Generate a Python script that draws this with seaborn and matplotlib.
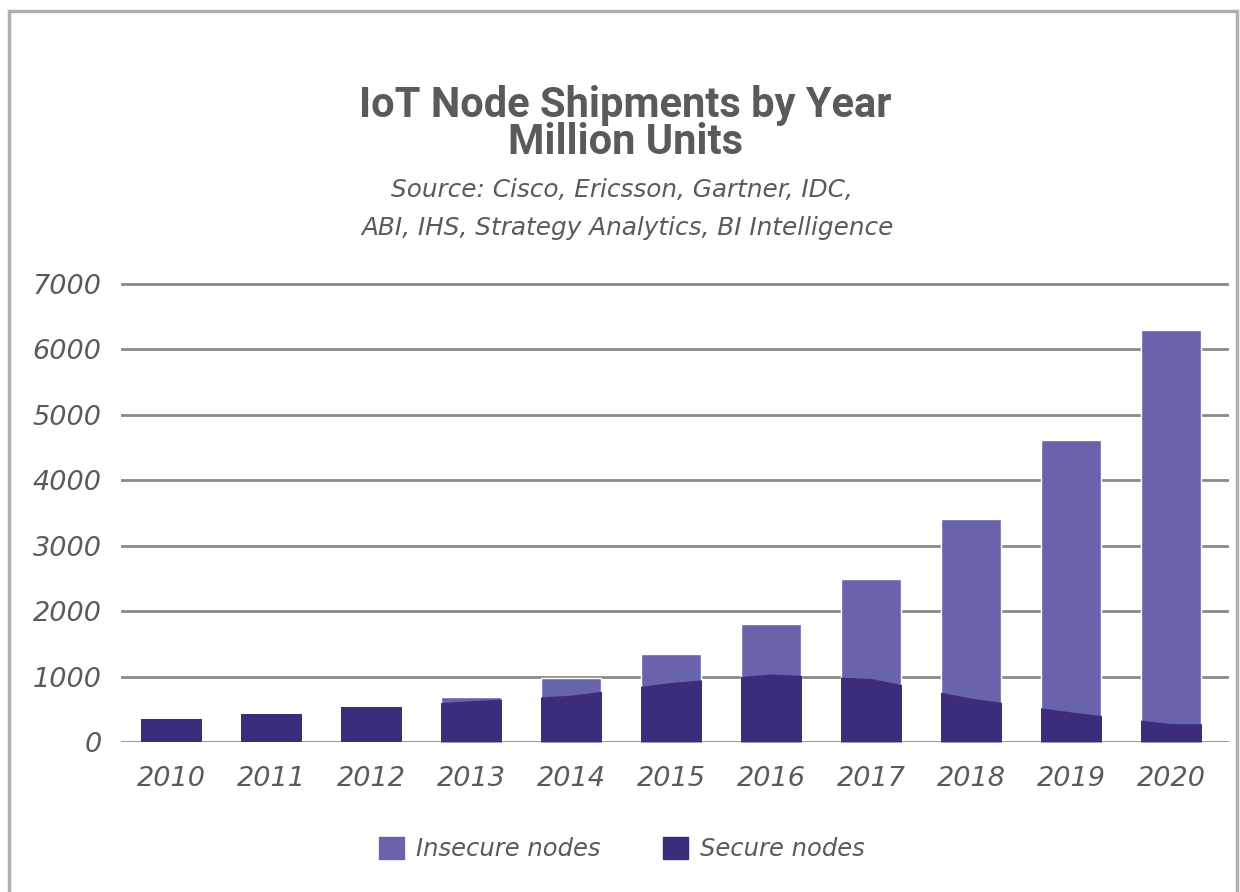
import numpy as np
import pandas as pd
import matplotlib
matplotlib.use("Agg")
import matplotlib.pyplot as plt
from matplotlib.patches import Patch, Rectangle
import seaborn as sns

# Shipments in million units
years = ["2010", "2011", "2012", "2013", "2014", "2015", "2016", "2017", "2018", "2019", "2020"]
total_nodes = [350, 430, 540, 690, 980, 1350, 1800, 2490, 3410, 4620, 6300]
secure_nodes = [350, 430, 540, 630, 715, 910, 1040, 970, 670, 460, 280]
y_ticks = [0, 1000, 2000, 3000, 4000, 5000, 6000, 7000]
series_names = ["Insecure nodes", "Secure nodes"]

title_lines = ["IoT Node Shipments by Year", "Million Units"]
source_lines = ["Source: Cisco, Ericsson, Gartner, IDC,",
                "ABI, IHS, Strategy Analytics, BI Intelligence"]

LIGHT = "#6863ab"
DARK = "#3b2d7b"
GRID = "#8a8a8a"
TEXT = "#5a5a5a"

sns.set_theme(style="white")
plt.rcParams["font.family"] = ["DejaVu Sans"]

W, H = 1240, 892
fig = plt.figure(figsize=(W / 100, H / 100), dpi=100)
fig.patch.set_facecolor("white")

# frame around the whole graphic
fig.add_artist(Rectangle((9 / W, -0.05), (1237 - 9) / W, 1.05 - 11 / H,
                         transform=fig.transFigure, fill=False,
                         edgecolor="#b0b0b0", linewidth=2.5))

y_top = 7050
px_per_unit = (742 - 284) / 7000
ax_h = y_top * px_per_unit
ax = fig.add_axes([121 / W, (H - 742) / H, (1229 - 121) / W, ax_h / H])

df = pd.DataFrame({"year": years, "total": total_nodes})
sns.barplot(data=df, x="year", y="total", color=LIGHT, width=0.6,
            saturation=1, ax=ax, zorder=3)

# secure share drawn as a continuous area, revealed only inside each bar;
# a bar that is entirely secure is filled completely
xpos = np.arange(len(years))
xs = np.concatenate([[xpos[0] - 0.5], xpos, [xpos[-1] + 0.5]])
ys = np.concatenate([[secure_nodes[0]], secure_nodes, [secure_nodes[-1]]])
for bar, sec, tot in zip(list(ax.patches), secure_nodes, total_nodes):
    top = np.full_like(xs, tot, dtype=float) if sec >= tot else ys
    poly = ax.fill_between(xs, 0, top, color=DARK, linewidth=0, zorder=4)
    poly.set_clip_path(bar)

ax.set_ylim(0, y_top)
ax.set_xlim(-0.5, 10.58)
ax.set_yticks(y_ticks)
ax.set_yticklabels([str(v) for v in y_ticks])
ax.yaxis.grid(True, color=GRID, linewidth=2)
ax.set_axisbelow(True)
for s in ax.spines.values():
    s.set_visible(False)
ax.set_xlabel("")
ax.set_ylabel("")
ax.tick_params(axis="y", length=0, pad=14, labelsize=19.5, labelcolor=TEXT)
ax.tick_params(axis="x", length=0, pad=17, labelsize=19.5, labelcolor=TEXT)
for lab in ax.get_xticklabels() + ax.get_yticklabels():
    lab.set_fontstyle("italic")

# titles
tfam = ["Roboto", "DejaVu Sans"]
fig.text(625 / W, 1 - 106 / H, title_lines[0], ha="center", va="center",
         fontsize=30, fontweight="bold", color=TEXT, family=tfam)
fig.text(625 / W, 1 - 143 / H, title_lines[1], ha="center", va="center",
         fontsize=30, fontweight="bold", color=TEXT, family=tfam)
fig.text(622 / W, 1 - 190 / H, source_lines[0], ha="center", va="center",
         fontsize=17.8, style="italic", color=TEXT)
fig.text(627 / W, 1 - 228 / H, source_lines[1], ha="center", va="center",
         fontsize=17.8, style="italic", color=TEXT)

handles = [Patch(facecolor=LIGHT, edgecolor=LIGHT), Patch(facecolor=DARK, edgecolor=DARK)]
leg = fig.legend(handles, series_names, loc="center", bbox_to_anchor=(622 / W, 1 - 849 / H),
                 ncol=2, frameon=False, handlelength=1.0, handleheight=1.0,
                 handletextpad=0.5, columnspacing=2.6,
                 prop={"size": 17.5, "style": "italic"})
for t in leg.get_texts():
    t.set_color(TEXT)

fig.savefig("out.png", dpi=100, facecolor="white")
